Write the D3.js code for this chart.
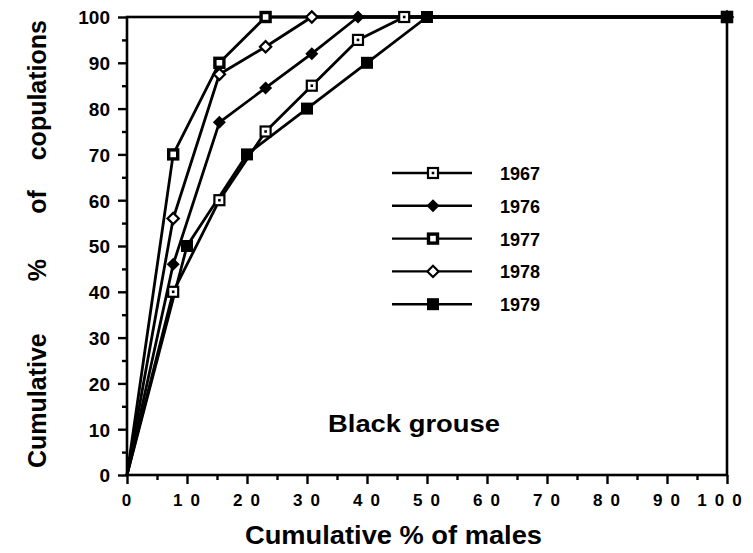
<!DOCTYPE html>
<html>
<head>
<meta charset="utf-8">
<script src="https://cdnjs.cloudflare.com/ajax/libs/d3/7.8.5/d3.min.js"></script>
<style>
  body { margin: 0; background: #fff; }
  text { font-family: "Liberation Sans", Arial, Helvetica, sans-serif; font-weight: bold; fill: #000; }
</style>
</head>
<body>
<div id="chart"></div>
<script>
// data (cumulative % of males vs cumulative % of copulations)
const years = ["1967", "1976", "1977", "1978", "1979"];
const x1967 = [0, 7.7, 15.4, 23.1, 30.8, 38.5, 46.2, 100];
const y1967 = [0, 40, 60, 75, 85, 95, 100, 100];
const x1976 = [0, 7.7, 15.4, 23.1, 30.8, 38.5, 100];
const y1976 = [0, 46, 77, 84.5, 92, 100, 100];
const x1977 = [0, 7.7, 15.4, 23.1, 100];
const y1977 = [0, 70, 90, 100, 100];
const x1978 = [0, 7.7, 15.4, 23.1, 30.8, 100];
const y1978 = [0, 56, 87.5, 93.5, 100, 100];
const x1979 = [0, 10, 20, 30, 40, 50, 100];
const y1979 = [0, 50, 70, 80, 90, 100, 100];
const majorTicks = [0, 10, 20, 30, 40, 50, 60, 70, 80, 90, 100];
const minorTicks = [5, 15, 25, 35, 45, 55, 65, 75, 85, 95];
const yTitleWords = ["Cumulative", "%", "of", "copulations"];

const seriesX = [x1967, x1976, x1977, x1978, x1979];
const seriesY = [y1967, y1976, y1977, y1978, y1979];

const width = 753;
const height = 553;
const margin = { top: 17, left: 127, bottom: 78, right: 26 };
const iwidth = width - margin.left - margin.right;
const iheight = height - margin.top - margin.bottom;

const svg = d3.select("#chart").append("svg")
    .attr("width", width)
    .attr("height", height);

const g = svg.append("g").attr("transform", `translate(${margin.left},${margin.top})`);

const x = d3.scaleLinear().domain([0, 100]).range([0, iwidth]);
const y = d3.scaleLinear().domain([0, 100]).range([iheight, 0]);

// axes
const xAxis = g.append("g")
    .attr("transform", `translate(0,${iheight})`)
    .call(d3.axisBottom(x).tickValues(majorTicks).tickSize(9).tickPadding(10).tickFormat(d3.format("d")));
g.append("g")
    .attr("transform", `translate(0,${iheight})`)
    .call(d3.axisBottom(x).tickValues(minorTicks).tickSize(5).tickFormat(""));

const yAxis = g.append("g")
    .call(d3.axisLeft(y).tickValues(majorTicks).tickSize(9).tickPadding(8).tickFormat(d3.format("d")));
g.append("g")
    .call(d3.axisLeft(y).tickValues(minorTicks).tickSize(5).tickFormat(""));

g.selectAll(".domain").remove();
g.selectAll(".tick line").attr("stroke", "#000").attr("stroke-width", 2.4);

xAxis.selectAll("text")
    .style("font-size", "17px")
    .style("letter-spacing", "8px")
    .attr("dx", d => d === 100 ? -4 : 3)
    .attr("fill", "#000");
yAxis.selectAll("text")
    .style("font-size", "19px")
    .attr("dy", "0.36em")
    .attr("fill", "#000");

// frame
g.append("rect")
    .attr("x", 0).attr("y", 0)
    .attr("width", iwidth).attr("height", iheight)
    .attr("fill", "none")
    .attr("stroke", "#000")
    .attr("stroke-width", 2.6);

// lines
const line = d3.line().x(d => x(d[0])).y(d => y(d[1]));
seriesX.forEach((xs, i) => {
    const pts = xs.map((v, j) => [v, seriesY[i][j]]);
    g.append("path")
        .datum(pts)
        .attr("fill", "none")
        .attr("stroke", "#000")
        .attr("stroke-width", 2.8)
        .attr("stroke-linejoin", "round")
        .attr("d", line);
});

// markers
function marker(sel, i) {
    if (i === 0) { // open square with dot
        sel.append("rect").attr("x", -5).attr("y", -5).attr("width", 10).attr("height", 10)
            .attr("fill", "#fff").attr("stroke", "#000").attr("stroke-width", 2.2);
        sel.append("rect").attr("x", -1.3).attr("y", -1.3).attr("width", 2.6).attr("height", 2.6).attr("fill", "#000");
    } else if (i === 1) { // filled diamond
        sel.append("rect").attr("x", -4.6).attr("y", -4.6).attr("width", 9.2).attr("height", 9.2)
            .attr("transform", "rotate(45)").attr("fill", "#000");
    } else if (i === 2) { // heavy open square
        sel.append("rect").attr("x", -4.5).attr("y", -4.5).attr("width", 9).attr("height", 9)
            .attr("fill", "#fff").attr("stroke", "#000").attr("stroke-width", 3.4);
    } else if (i === 3) { // open diamond
        sel.append("rect").attr("x", -4).attr("y", -4).attr("width", 8).attr("height", 8)
            .attr("transform", "rotate(45)").attr("fill", "#fff").attr("stroke", "#000").attr("stroke-width", 2.2);
    } else { // filled square
        sel.append("rect").attr("x", -6).attr("y", -6).attr("width", 12).attr("height", 12).attr("fill", "#000");
    }
}

seriesX.forEach((xs, i) => {
    const pts = xs.map((v, j) => [v, seriesY[i][j]]).filter(d => d[0] > 0);
    g.selectAll(null).data(pts).enter().append("g")
        .attr("transform", d => `translate(${x(d[0])},${y(d[1])})`)
        .each(function () { marker(d3.select(this), i); });
});

// legend
const legend = svg.append("g").attr("transform", "translate(392,173)");
years.forEach((yr, i) => {
    const row = legend.append("g").attr("transform", `translate(0,${i * 32.8})`);
    row.append("line").attr("x1", 0).attr("x2", 80).attr("y1", 0).attr("y2", 0)
        .attr("stroke", "#000").attr("stroke-width", 2.4);
    marker(row.append("g").attr("transform", "translate(41,0)"), i);
    row.append("text").attr("x", 108).attr("y", 7).style("font-size", "18px").text(yr);
});

// annotation
svg.append("text")
    .attr("x", 328).attr("y", 432)
    .attr("textLength", 172).attr("lengthAdjust", "spacingAndGlyphs")
    .style("font-size", "23px")
    .text("Black grouse");

// axis titles
svg.append("text")
    .attr("x", 245).attr("y", 544)
    .attr("textLength", 297).attr("lengthAdjust", "spacingAndGlyphs")
    .style("font-size", "25px")
    .text("Cumulative % of males");

// y title: widely spaced words, laid out along the rotated baseline
const yTitle = svg.append("g").attr("transform", "translate(46,468) rotate(-90)");
const wordPos = [0, 198, 266, 448];
const wordAnchor = ["start", "middle", "middle", "end"];
yTitleWords.forEach((w, i) => {
    yTitle.append("text")
        .attr("x", wordPos[i])
        .attr("text-anchor", wordAnchor[i])
        .style("font-size", "25px")
        .text(w);
});
</script>
</body>
</html>
